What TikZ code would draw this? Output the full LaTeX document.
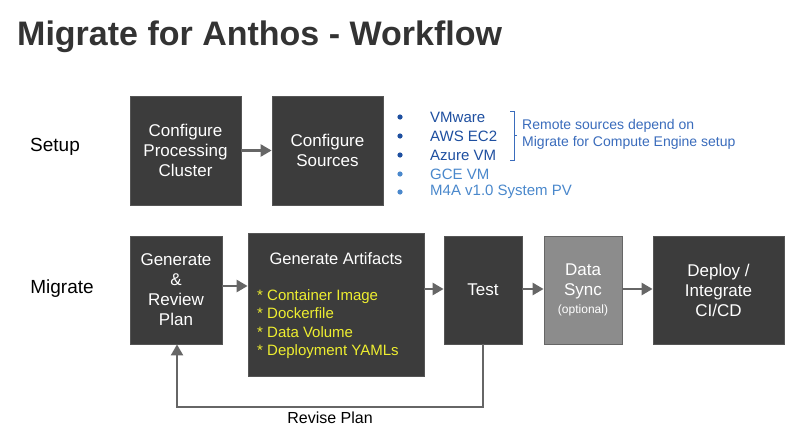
\documentclass[tikz,border=0pt]{standalone}
\usepackage{fontspec}
\setmainfont{Liberation Sans}
\usetikzlibrary{arrows.meta,calc}
\definecolor{boxfill}{HTML}{3C3C3C}
\definecolor{boxline}{HTML}{555555}
\definecolor{syncfill}{HTML}{8C8C8C}
\definecolor{arrowgray}{HTML}{666666}
\definecolor{darkblue}{HTML}{1E4FA0}
\definecolor{lightblue}{HTML}{4A88CC}
\definecolor{noteblue}{HTML}{3A6CBC}
\definecolor{itemyellow}{HTML}{EEEE30}
\definecolor{titlegray}{HTML}{333333}
\tikzset{
  stepbox/.style={draw=boxline, line width=0.8pt, fill=boxfill, text=white, align=center, inner sep=0pt, font=\fontsize{17}{20}\selectfont},
  flow/.style={draw=arrowgray, line width=2.5pt, -{Triangle[length=11pt,width=12pt]}},
  lbl/.style={font=\fontsize{19}{22}\selectfont, text=black, inner sep=0pt},
}
\begin{document}
\begin{tikzpicture}[x=1pt,y=-1pt]
\useasboundingbox[fill=white] (0,0) rectangle (800,434);
\node[anchor=base west, inner sep=0pt, text=titlegray, font=\fontsize{34}{38}\selectfont\bfseries] (title) at (17,45) {Migrate for Anthos - Workflow};

\node[lbl] (setup) at (55,147) {Setup};
\node[lbl] (migrate) at (62,289) {Migrate};

% setup boxes
\node[stepbox, minimum width=111pt, minimum height=109pt] (cluster) at (185.5,150.5) {Configure\\Processing\\Cluster};
\node[stepbox, minimum width=111pt, minimum height=109pt] (sources) at (327.5,150.5) {Configure\\Sources};
\draw[flow] (cluster.east) -- (sources.west);

% source list
\foreach \y/\t/\c [count=\i] in {117/VMware/darkblue,136/AWS EC2/darkblue,155/Azure VM/darkblue,174/GCE VM/lightblue,192/M4A v1.0 System PV/lightblue}{
  \fill[\c] (400,\y) circle (2.6pt);
  \node[anchor=west, inner sep=0pt, text=\c, font=\fontsize{15}{18}\selectfont] (src\i) at (430,\y) {\t};
}
\draw[noteblue, line width=0.9pt] (510,111) -- (514,111) -- (514,160) -- (510,160);
\draw[noteblue, line width=0.9pt] (514,135.5) -- (517,135.5);
\node[anchor=west, align=left, inner sep=0pt, text=noteblue, font=\fontsize{14}{17}\selectfont] (note) at (522,134.5) {Remote sources depend on\\Migrate for Compute Engine setup};

% migrate boxes
\node[stepbox, minimum width=92pt, minimum height=108pt] (plan) at (176,290) {Generate\\\&\\Review\\Plan};
\node[stepbox, minimum width=176pt, minimum height=143pt] (artifacts) at (336,304.5) {};
\node[anchor=base, text=white, inner sep=0pt, font=\fontsize{16.5}{20}\selectfont] (arttitle) at (336,264) {Generate Artifacts};
\node[anchor=north west, align=left, text=itemyellow, inner sep=0pt, font=\fontsize{15}{18.6}\selectfont] (artitems) at (257,289) {* Container Image\\* Dockerfile\\* Data Volume\\* Deployment YAMLs};
\node[stepbox, minimum width=78pt, minimum height=108pt] (test) at (483,290) {Test};
\node[stepbox, fill=syncfill, draw=arrowgray, minimum width=78pt, minimum height=108pt] (sync) at (583,290) {Data\\Sync\\[-2pt]{\fontsize{12}{14}\selectfont(optional)}};
\node[stepbox, minimum width=131pt, minimum height=108pt] (deploy) at (718.5,290) {Deploy /\\Integrate\\CI/CD};

\draw[flow] (plan.east |- 0,286) -- (artifacts.west |- 0,286);
\draw[flow] (artifacts.east |- 0,289) -- (test.west |- 0,289);
\draw[flow] (test.east |- 0,289) -- (sync.west |- 0,289);
\draw[flow] (sync.east |- 0,289) -- (deploy.west |- 0,289);

\coordinate (loopR) at (483,407);
\coordinate (loopL) at (177,407);
\draw[flow, line width=2pt] (test.south) -- (loopR) -- (loopL) -- (plan.south -| loopL);
\node[lbl, font=\fontsize{16}{20}\selectfont] (revise) at (330,418) {Revise Plan};
\end{tikzpicture}
\end{document}
